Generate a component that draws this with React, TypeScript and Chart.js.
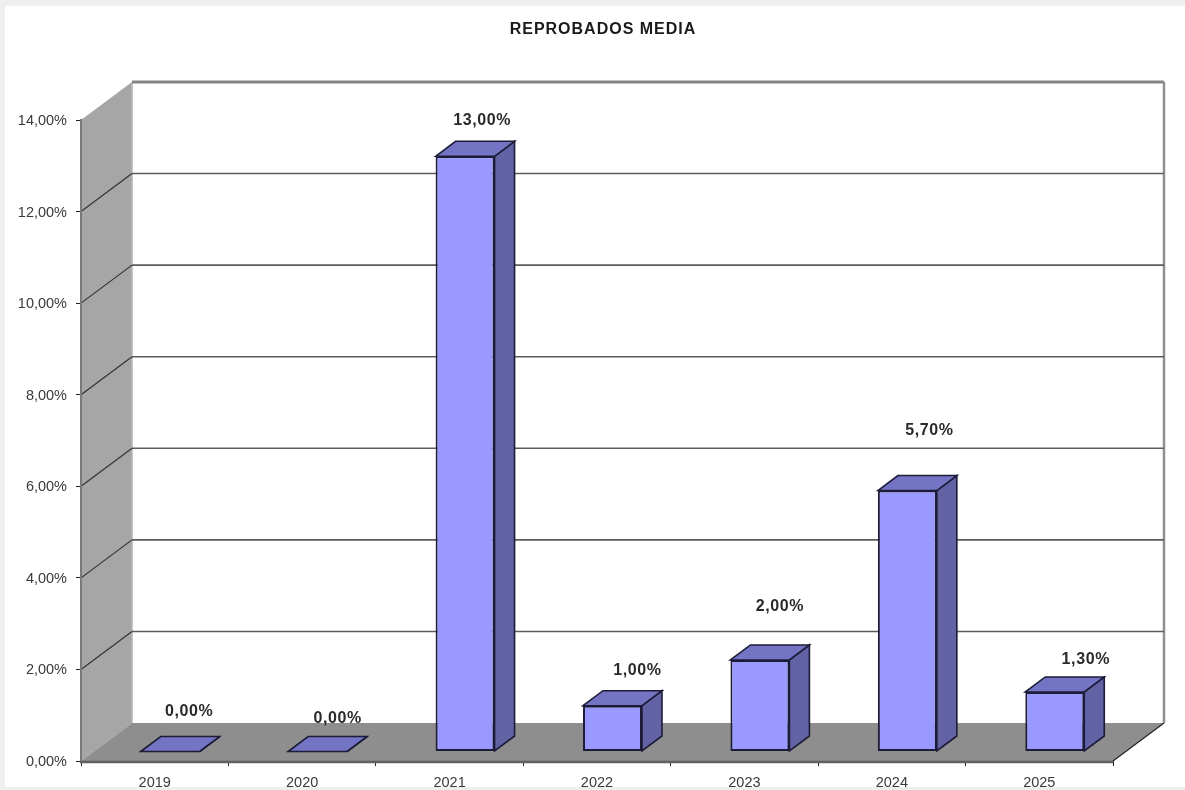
import React, { useEffect, useRef } from "react";
import { Chart, registerables } from "chart.js";

Chart.register(...registerables);

const titleText = "REPROBADOS MEDIA";
const categories = ["2019", "2020", "2021", "2022", "2023", "2024", "2025"];
const values = [0, 0, 13, 1, 2, 5.7, 1.3];
const valueLabels = ["0,00%", "0,00%", "13,00%", "1,00%", "2,00%", "5,70%", "1,30%"];
// Hand-placed label nudges of the original, relative to the top of each bar
const labelNudgeX = [19, 20, 17, 25, 20, 22, 31];
const labelNudgeY = [-39, -32, -35, -35, -53, -59, -32];

const WALL_DX = 51;
const WALL_DY = -38;
const BAR_DX = 15.5;
const BAR_DY = -9.5;
const BAR_DEPTH_X = 20;
const BAR_DEPTH_Y = -15;
const FONT = '"Liberation Sans", Arial, sans-serif';
const BAR_EDGE = "#1c1c38";

const poly = (ctx: CanvasRenderingContext2D, pts: number[][], fill?: string, stroke?: string, lw = 1) => {
  ctx.beginPath();
  pts.forEach(([x, y], i) => (i ? ctx.lineTo(x, y) : ctx.moveTo(x, y)));
  ctx.closePath();
  if (fill) {
    ctx.fillStyle = fill;
    ctx.fill();
  }
  if (stroke) {
    ctx.strokeStyle = stroke;
    ctx.lineWidth = lw;
    ctx.stroke();
  }
};

const line = (ctx: CanvasRenderingContext2D, x1: number, y1: number, x2: number, y2: number, color: string, lw: number) => {
  ctx.beginPath();
  ctx.moveTo(x1, y1);
  ctx.lineTo(x2, y2);
  ctx.strokeStyle = color;
  ctx.lineWidth = lw;
  ctx.stroke();
};

const box3d = {
  id: "box3d",
  beforeDraw(chart: any) {
    const { ctx, width, height, chartArea: a, scales } = chart;
    ctx.save();
    ctx.fillStyle = "#efefef";
    ctx.fillRect(0, 0, width, height);
    ctx.fillStyle = "#ffffff";
    ctx.fillRect(5, 6, width - 5, height - 9);

    const y0 = a.bottom;
    const yTop = a.top;
    // side wall
    poly(ctx, [[a.left, yTop], [a.left + WALL_DX, yTop + WALL_DY], [a.left + WALL_DX, y0 + WALL_DY], [a.left, y0]], "#a6a6a6");
    // floor
    poly(ctx, [[a.left, y0], [a.left + WALL_DX, y0 + WALL_DY], [a.right + WALL_DX, y0 + WALL_DY], [a.right, y0]], "#8e8e8e");
    line(ctx, a.right, y0, a.right + WALL_DX, y0 + WALL_DY, "#222222", 1.2);
    line(ctx, a.left + WALL_DX, yTop + WALL_DY, a.left + WALL_DX, y0 + WALL_DY, "#b4b4b4", 1.5);
    line(ctx, a.right + WALL_DX, yTop + WALL_DY, a.right + WALL_DX, y0 + WALL_DY, "#909090", 2.5);
    // gridlines from the value scale
    scales.y.ticks.forEach((t: any) => {
      if (t.value === 0) return;
      const py = scales.y.getPixelForValue(t.value);
      const top = t.value === 14;
      if (!top) line(ctx, a.left, py, a.left + WALL_DX, py + WALL_DY, "#333333", 1.2);
      line(ctx, a.left + WALL_DX, py + WALL_DY, a.right + WALL_DX, py + WALL_DY, top ? "#858585" : "#5c5c5c", top ? 3 : 1.6);
    });
    ctx.restore();
  },
  beforeDatasetDraw(chart: any, args: any) {
    const { ctx } = chart;
    ctx.save();
    ctx.translate(BAR_DX, BAR_DY);
    chart.getDatasetMeta(args.index).data.forEach((bar: any) => {
      const l = bar.x - bar.width / 2;
      const r = bar.x + bar.width / 2;
      const t = bar.y;
      const b = bar.base;
      poly(ctx, [[r, t], [r + BAR_DEPTH_X, t + BAR_DEPTH_Y], [r + BAR_DEPTH_X, b + BAR_DEPTH_Y], [r, b]], "#6262a4", BAR_EDGE, 1.6);
      poly(ctx, [[l, t], [l + BAR_DEPTH_X, t + BAR_DEPTH_Y], [r + BAR_DEPTH_X, t + BAR_DEPTH_Y], [r, t]], "#7474c4", BAR_EDGE, 1.6);
    });
  },
  afterDatasetDraw(chart: any) {
    chart.ctx.restore();
  },
  afterDraw(chart: any) {
    const { ctx, chartArea: a } = chart;
    ctx.save();
    ctx.fillStyle = "#1a1a1a";
    ctx.textAlign = "center";
    ctx.textBaseline = "middle";
    (ctx as any).letterSpacing = "1px";
    ctx.font = `bold 16px ${FONT}`;
    ctx.fillText(titleText, 603, 30);
    (ctx as any).letterSpacing = "0.6px";
    ctx.font = `bold 16px ${FONT}`;
    ctx.fillStyle = "#2a2a2a";
    chart.getDatasetMeta(0).data.forEach((bar: any, i: number) => {
      ctx.fillText(valueLabels[i], bar.x + BAR_DX + labelNudgeX[i], bar.y - 10 + labelNudgeY[i]);
    });
    (ctx as any).letterSpacing = "0px";
    line(ctx, a.left - 1, a.bottom + 1, a.right, a.bottom + 1, "#606060", 2.5);
    ctx.restore();
  },
};

export default function App() {
  const ref = useRef<HTMLCanvasElement>(null);
  useEffect(() => {
    document.body.style.margin = "0";
    const chart = new Chart(ref.current!, {
      type: "bar",
      data: {
        labels: categories,
        datasets: [
          {
            data: values,
            backgroundColor: "#9999ff",
            borderColor: BAR_EDGE,
            borderWidth: 2,
            borderSkipped: false,
            barPercentage: 0.4,
            categoryPercentage: 1,
            clip: false,
          } as any,
        ],
      },
      plugins: [box3d],
      options: {
        responsive: false,
        animation: false,
        layout: { padding: { top: 120, right: 72, left: 0, bottom: 0 } },
        plugins: { legend: { display: false }, tooltip: { enabled: false }, title: { display: false } },
        scales: {
          x: {
            type: "category",
            offset: true,
            afterFit: (s: any) => {
              s.height = 29;
            },
            grid: { display: true, drawOnChartArea: false, tickLength: 5, color: "#222222", offset: true },
            border: { color: "#555555", width: 1 },
            ticks: { color: "#3a3a3a", font: { family: FONT, size: 14.5 }, padding: 8, maxRotation: 0 },
          },
          y: {
            min: 0,
            max: 14,
            afterFit: (s: any) => {
              s.width = 81;
            },
            grid: { display: true, drawOnChartArea: false, tickLength: 5, color: "#222222" },
            border: { color: "#7a7a7a", width: 2 },
            ticks: {
              stepSize: 2,
              color: "#3a3a3a",
              font: { family: FONT, size: 14.5 },
              padding: 9,
              labelOffset: 1,
              callback: (v: any) => `${Number(v).toFixed(2).replace(".", ",")}%`,
            },
          },
        },
      },
    });
    return () => chart.destroy();
  }, []);
  return <canvas ref={ref} width={1185} height={790} style={{ display: "block", filter: "blur(0.6px)" }} />;
}
